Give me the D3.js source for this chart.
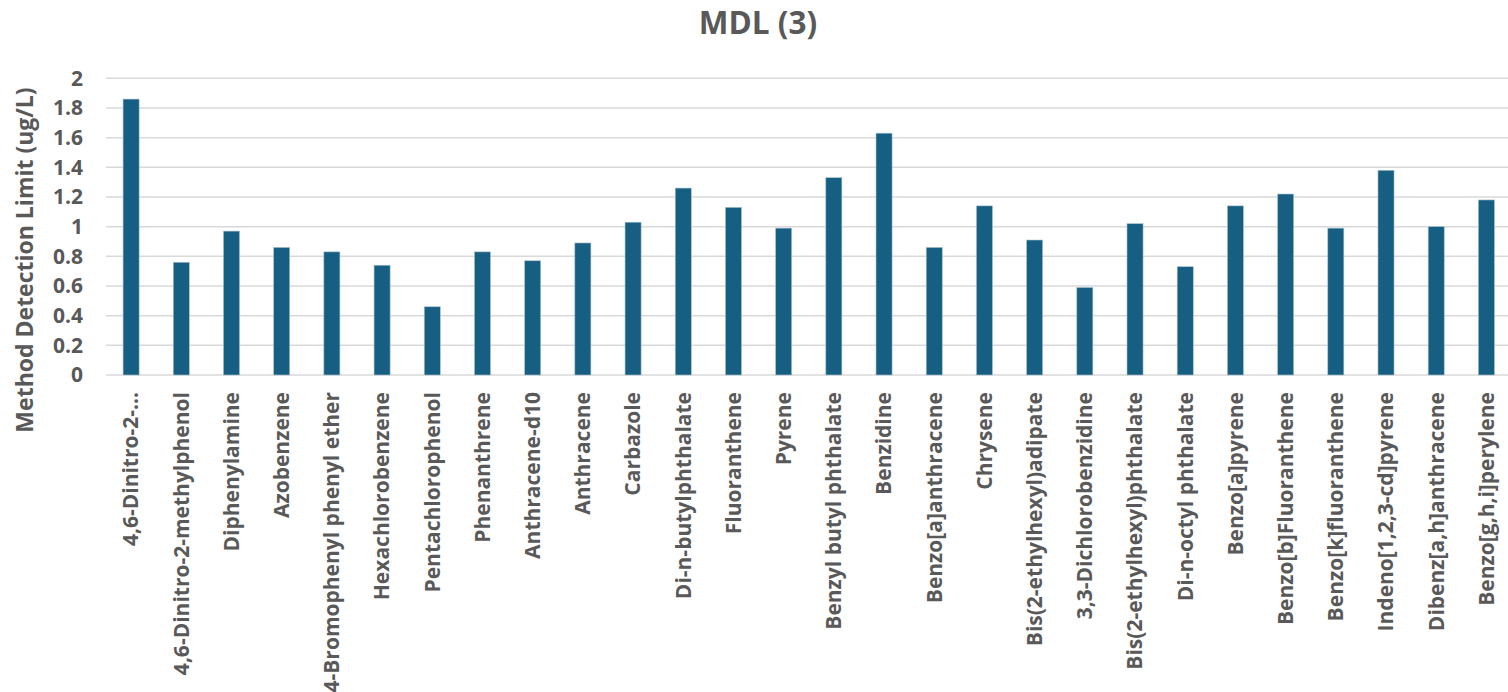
<!DOCTYPE html>
<html>
<head>
<meta charset="utf-8">
<script src="https://cdn.jsdelivr.net/npm/d3@7"></script>
<style>
  html, body { margin: 0; padding: 0; background: #ffffff; }
  svg { display: block; }
  text { font-family: "Open Sans", Roboto, sans-serif; font-weight: 700; fill: #595959; }
</style>
</head>
<body>
<svg id="chart" width="1508" height="692"></svg>
<script>
// Method detection limits (ug/L) per analyte
const compounds = [
  "4,6-Dinitro-2-…",
  "4,6-Dinitro-2-methylphenol",
  "Diphenylamine",
  "Azobenzene",
  "4-Bromophenyl phenyl ether",
  "Hexachlorobenzene",
  "Pentachlorophenol",
  "Phenanthrene",
  "Anthracene-d10",
  "Anthracene",
  "Carbazole",
  "Di-n-butylphthalate",
  "Fluoranthene",
  "Pyrene",
  "Benzyl butyl phthalate",
  "Benzidine",
  "Benzo[a]anthracene",
  "Chrysene",
  "Bis(2-ethylhexyl)adipate",
  "3,3-Dichlorobenzidine",
  "Bis(2-ethylhexyl)phthalate",
  "Di-n-octyl phthalate",
  "Benzo[a]pyrene",
  "Benzo[b]Fluoranthene",
  "Benzo[k]fluoranthene",
  "Indeno[1,2,3-cd]pyrene",
  "Dibenz[a,h]anthracene",
  "Benzo[g,h,i]perylene"
];
const mdlValues = [
  1.86, 0.76, 0.97, 0.86, 0.83, 0.74, 0.46, 0.83, 0.77, 0.89,
  1.03, 1.26, 1.13, 0.99, 1.33, 1.63, 0.86, 1.14, 0.91, 0.59,
  1.02, 0.73, 1.14, 1.22, 0.99, 1.38, 1.00, 1.18
];
const yTicks = [0, 0.2, 0.4, 0.6, 0.8, 1, 1.2, 1.4, 1.6, 1.8, 2];
const chartTitle = "MDL (3)";
const yTitle = "Method Detection Limit (ug/L)";

const svg = d3.select("#chart");
const plot = { left: 106, right: 1511.5, top: 78.3, bottom: 375 };
const font = "'Open Sans', Roboto, sans-serif";

const x = d3.scaleBand()
  .domain(compounds.map((d, i) => i))
  .range([plot.left, plot.right])
  .paddingInner(0.68)
  .paddingOuter(0.34);

const y = d3.scaleLinear()
  .domain([0, 2])
  .range([plot.bottom, plot.top]);

// Horizontal gridlines
svg.append("g")
  .selectAll("line")
  .data(yTicks)
  .join("line")
  .attr("x1", plot.left)
  .attr("x2", 1508)
  .attr("y1", d => y(d))
  .attr("y2", d => y(d))
  .attr("stroke", "#d9d9d9")
  .attr("stroke-width", 1.5);

// Bars
svg.append("g")
  .selectAll("rect")
  .data(mdlValues)
  .join("rect")
  .attr("x", (d, i) => x(i))
  .attr("width", x.bandwidth())
  .attr("y", d => y(d))
  .attr("height", d => y(0) - y(d))
  .attr("fill", "#175f82")
  .attr("stroke", "#a9c2d0")
  .attr("stroke-width", 0.6);

// Y axis tick labels
const yAxis = d3.axisLeft(y)
  .tickValues(yTicks)
  .tickFormat(d3.format("~g"))
  .tickSize(0)
  .tickPadding(0);
const yAxisG = svg.append("g")
  .attr("transform", `translate(83,0)`)
  .call(yAxis);
yAxisG.select(".domain").remove();
yAxisG.selectAll("text")
  .attr("font-size", 21)
  .attr("font-family", font)
  .attr("font-weight", 700)
  .attr("fill", "#595959");

// X axis category labels (rotated)
const xAxis = d3.axisBottom(x)
  .tickFormat(i => compounds[i])
  .tickSize(0)
  .tickPadding(0);
const xAxisG = svg.append("g")
  .attr("transform", `translate(0,${plot.bottom})`)
  .call(xAxis);
xAxisG.select(".domain").remove();
xAxisG.selectAll("text")
  .attr("font-size", 21)
  .attr("font-family", font)
  .attr("font-weight", 700)
  .attr("fill", "#595959")
  .attr("text-anchor", "end")
  .attr("transform", "translate(0,17) rotate(-90)")
  .attr("x", 0)
  .attr("y", 0)
  .attr("dy", "0.35em");

// Title
svg.append("text")
  .attr("x", 758)
  .attr("y", 34)
  .attr("text-anchor", "middle")
  .attr("font-size", 31.5)
  .text(chartTitle);

// Y axis title
svg.append("text")
  .attr("transform", "translate(33,260) rotate(-90)")
  .attr("text-anchor", "middle")
  .attr("font-size", 23)
  .text(yTitle);
</script>
</body>
</html>
